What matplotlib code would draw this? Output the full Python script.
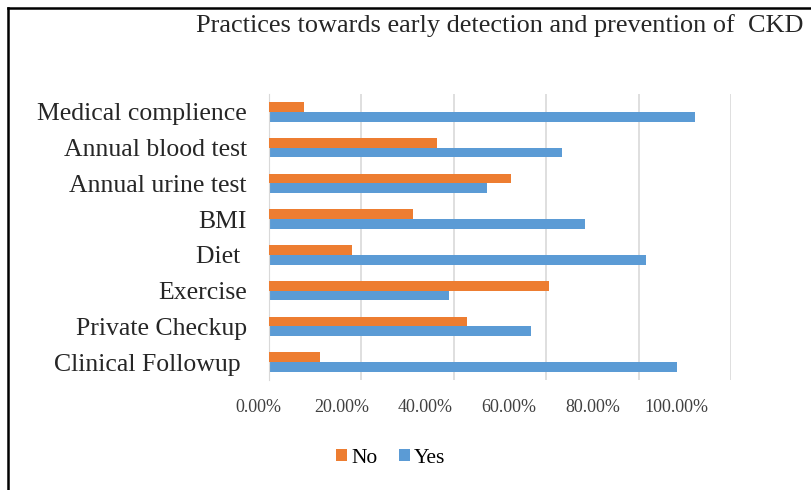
import numpy as np
import matplotlib
matplotlib.use("Agg")
import matplotlib.pyplot as plt
from matplotlib.lines import Line2D

plt.rcParams['font.family'] = ['Liberation Serif', 'DejaVu Serif']

# Practices, listed bottom to top as they appear on the axis
practices = ["Clinical Followup ", "Private Checkup", "Exercise", "Diet ",
             "BMI", "Annual urine test", "Annual blood test",
             "Medical complience"]
no_share = [0.111, 0.429, 0.607, 0.180, 0.312, 0.524, 0.364, 0.076]
yes_share = [0.884, 0.568, 0.390, 0.817, 0.685, 0.472, 0.635, 0.921]
xticks = [0.0, 0.2, 0.4, 0.6, 0.8, 1.0]
xticklabels = ["%.2f%%" % (v * 100) for v in xticks]

orange = '#ED7D31'
blue = '#5B9BD5'
W, H = 811, 490

fig = plt.figure(figsize=(W / 100, H / 100), dpi=100)
ax = fig.add_axes([269 / W, 1 - 380 / H, 462 / W, 286 / H])

y = np.arange(len(practices))
h = 0.27
ax.barh(y + h / 2, no_share, height=h, color=orange, label='No', zorder=3)
ax.barh(y - h / 2, yes_share, height=h, color=blue, label='Yes', zorder=2)

ax.set_xlim(0, 1)
ax.set_ylim(-0.5, len(practices) - 0.5)
ax.set_xticks(xticks)
ax.set_yticks(y)
ax.set_yticklabels(practices, fontsize=18.5, color='#262626')
ax.tick_params(axis='y', length=0, pad=16)
ax.tick_params(axis='x', length=0, labelbottom=False)
ax.grid(axis='x', color='#D9D9D9', lw=1.2, zorder=0)
for s in ['top', 'right', 'bottom']:
    ax.spines[s].set_visible(False)
ax.spines['left'].set_color('#D9D9D9')

# percentage labels sit on their own, slightly narrower strip under the grid
lab = fig.add_axes([258 / W, 1 - 380 / H, 418 / W, 0.001])
lab.set_xlim(0, 1)
lab.set_xticks(xticks)
lab.set_xticklabels(xticklabels)
lab.set_yticks([])
lab.tick_params(axis='x', length=0, pad=14, labelsize=13, labelcolor='#404040')
lab.patch.set_visible(False)
for s in lab.spines.values():
    s.set_visible(False)

fig.text(196 / W, 1 - 26 / H,
         "Practices towards early detection and prevention of  CKD",
         fontsize=18.9, color='#262626', ha='left', va='center')

ax.legend(loc='center', bbox_to_anchor=(391 / W, 1 - 458 / H),
          bbox_transform=fig.transFigure, ncol=2, frameon=False,
          fontsize=15.5, handlelength=0.5, handleheight=0.5,
          handletextpad=0.2, columnspacing=1.0)

# outer frame
fig.add_artist(Line2D([8 / W, 8 / W], [0, 1 - 8 / H], color='black', lw=1.8,
                      transform=fig.transFigure))
fig.add_artist(Line2D([8 / W, 1], [1 - 8 / H, 1 - 8 / H], color='black', lw=1.8,
                      transform=fig.transFigure))

fig.savefig("out.png", dpi=100)
